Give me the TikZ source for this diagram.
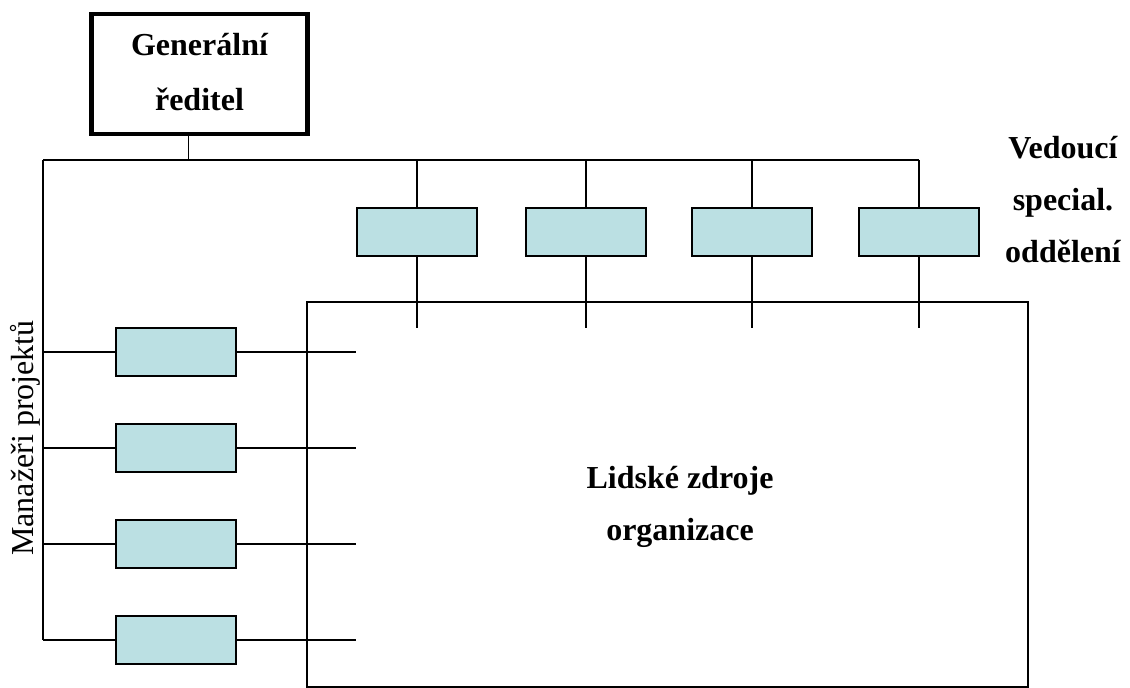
\documentclass[tikz,border=0pt]{standalone}
\usepackage{fontspec}
\setmainfont{Liberation Serif}
\definecolor{boxfill}{HTML}{BBE0E3}
\begin{document}
\begin{tikzpicture}[x=1pt,y=-1pt,
  conn/.style={line width=1.8pt},
  unit/.style={draw, line width=1.8pt, fill=boxfill, minimum width=120pt, minimum height=48pt, inner sep=0pt},
  boss/.style={draw, line width=4.8pt, minimum width=216pt, minimum height=120pt, inner sep=0pt},
  btext/.style={font=\fontsize{32}{38}\selectfont\bfseries, anchor=base, inner sep=0pt},
  rtext/.style={font=\fontsize{32}{38}\selectfont, anchor=base, inner sep=0pt}]
\useasboundingbox (0,0) rectangle (1130,688);
% big area
\node[draw, line width=1.8pt, minimum width=721pt, minimum height=385pt, inner sep=0pt] (hr) at (667.5,494.5) {};
% general director
\node[boss] (gr) at (199.5,74) {};
\node[btext] (gr1) at (199.5,55) {Generální};
\node[btext] (gr2) at (199.5,110) {ředitel};
% bus
\coordinate (tl) at (43,160);
\coordinate (tr) at (919,160);
\draw[conn] ([xshift=-11pt]gr.south) -- ([xshift=-11pt]gr.south |- tl);
\draw[conn] (tl) -- (tr);
% department heads
\foreach \n/\x in {1/417,2/586,3/752,4/919}{
  \node[unit] (d\n) at (\x,232) {};
  \coordinate (dl\n) at (\x,328);
  \draw[conn] (d\n.north |- tl) -- (d\n.north);
  \draw[conn] (d\n.south) -- (dl\n);
}
% project managers
\coordinate (lb) at (43,640);
\draw[conn] (tl) -- (lb);
\foreach \n/\y in {1/352,2/448,3/544,4/640}{
  \node[unit] (p\n) at (176,\y) {};
  \coordinate (pr\n) at (356,\y);
  \draw[conn] (p\n.west -| tl) -- (p\n.west);
  \draw[conn] (p\n.east) -- (pr\n);
}
% labels
\node[btext] (v1) at (1063,158) {Vedoucí};
\node[btext] (v2) at (1063,210) {special.};
\node[btext] (v3) at (1063,262) {oddělení};
\node[btext] (h1) at (680,488) {Lidské zdroje};
\node[btext] (h2) at (680,540) {organizace};
\node[rtext, rotate=90] (pm) at (33,438) {Manažeři projektů};
\end{tikzpicture}
\end{document}
